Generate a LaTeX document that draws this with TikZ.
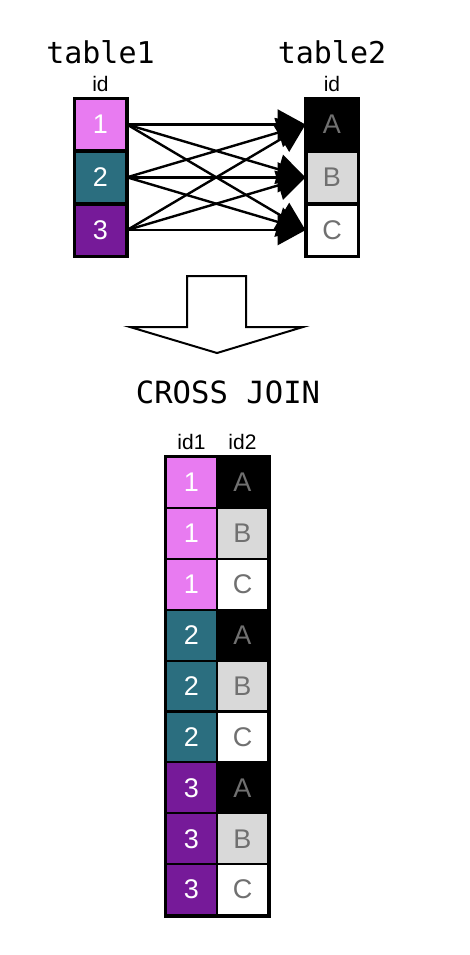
\documentclass[tikz,border=0pt]{standalone}
\usepackage{fontspec}
\setmainfont{Liberation Sans}
\setmonofont{DejaVu Sans Mono}
\usetikzlibrary{arrows.meta,positioning}
\definecolor{idone}{RGB}{232,123,241}
\definecolor{idtwo}{RGB}{43,110,127}
\definecolor{idthree}{RGB}{118,26,153}
\definecolor{cellgray}{RGB}{217,217,217}
\definecolor{lettergray}{RGB}{112,112,112}

\begin{document}
\begin{tikzpicture}[x=0.5pt,y=-0.5pt,>={Triangle[length=14pt,width=15pt]},
  cell/.style={draw,line width=1pt,minimum width=25.5pt,minimum height=25.4pt,
    inner sep=0pt,font=\fontsize{13.5}{13.5}\selectfont},
  key/.style={cell,text=white},
  val/.style={cell,text=lettergray},
  title/.style={font=\ttfamily\fontsize{15}{15}\selectfont,inner sep=1pt},
  head/.style={font=\fontsize{10.5}{10.5}\selectfont,inner sep=1pt}]
  \useasboundingbox (0,0) rectangle (470,955);
  % table1
  \node[key,fill=idone] (t1a) at (100.5,124.5) {1};
  \node[key,fill=idtwo,below=0pt of t1a] (t1b) {2};
  \node[key,fill=idthree,below=0pt of t1b] (t1c) {3};
  \draw[line width=1.5pt] (t1a.north west) rectangle (t1c.south east);
  \node[head,above=2pt of t1a] (t1id) {id};
  \node[title,above=4pt of t1id] (t1name) {table1};
  % table2
  \node[val,fill=black] (t2a) at (332,124.5) {A};
  \node[val,fill=cellgray,below=0pt of t2a] (t2b) {B};
  \node[val,fill=white,below=0pt of t2b] (t2c) {C};
  \draw[line width=1.5pt] (t2a.north west) rectangle (t2c.south east);
  \node[head,above=2pt of t2a] (t2id) {id};
  \node[title,above=4pt of t2id] (t2name) {table2};
  % every row to every row
  \foreach \s in {a,b,c}
    \foreach \t in {a,b,c}
      \draw[->,line width=1.2pt] (t1\s.east) -- (t2\t.west);
  % big arrow
  \draw[line width=1pt,line join=miter]
    (187,276) -- (246,276) -- (246,327) -- (303,327) -- (217,353)
    -- (130,327) -- (187,327) -- cycle;
  \node[title,font=\ttfamily\fontsize{15.3}{15.3}\selectfont] (join) at (228,392) {CROSS JOIN};
  % result
  \foreach \k/\kc/\v/\vc [count=\i] in {1/idone/A/black,1/idone/B/cellgray,
      1/idone/C/white,2/idtwo/A/black,2/idtwo/B/cellgray,2/idtwo/C/white,
      3/idthree/A/black,3/idthree/B/cellgray,3/idthree/C/white} {
    \node[key,fill=\kc] (r\i k) at (191.5,{457+50.9*(\i-0.5)}) {\k};
    \node[val,fill=\vc] (r\i v) at (242.5,{457+50.9*(\i-0.5)}) {\v};
  }
  \draw[line width=1.5pt] (r1k.north west) rectangle (r9v.south east);
  \node[head,above=2pt of r1k] (hid1) {id1};
  \node[head,above=2pt of r1v] (hid2) {id2};
\end{tikzpicture}
\end{document}
